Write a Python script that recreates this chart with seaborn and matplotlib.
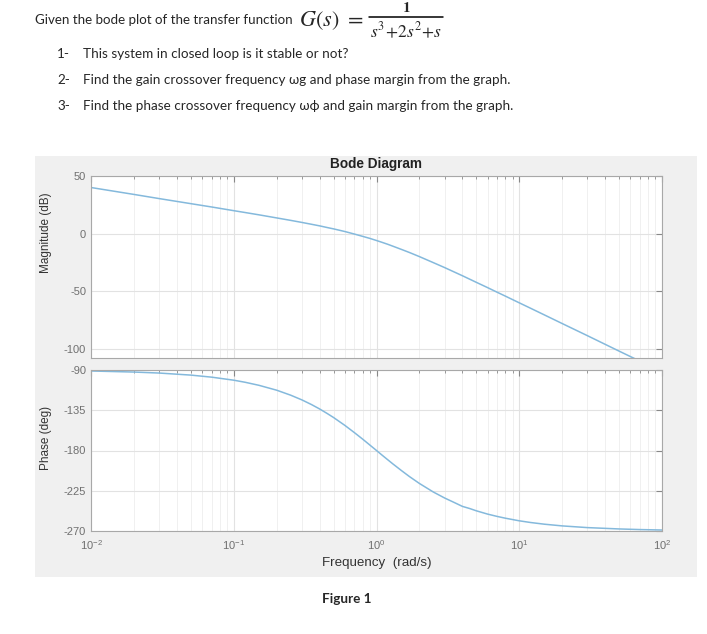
import matplotlib
matplotlib.use("Agg")
import matplotlib.pyplot as plt
from matplotlib.patches import Rectangle
from matplotlib.lines import Line2D
from matplotlib.ticker import LogLocator, NullFormatter
import seaborn as sns

# values
freq = [0.01, 0.02, 0.03, 0.05, 0.07, 0.1, 0.12, 0.15, 0.2, 0.25, 0.3, 0.35, 0.4,
        0.45, 0.5, 0.6, 0.7, 0.8, 0.9, 1.0, 1.1, 1.2, 1.3, 1.5, 1.7, 2, 2.5, 3,
        3.5, 4, 4.5, 5, 6, 7, 8, 10, 12, 15, 20, 30, 50, 70, 100]
mag_db = [40.0, 34.0, 30.4, 26.0, 23.1, 19.9, 18.3, 16.3, 13.6, 11.5, 9.7, 8.1,
          6.7, 5.3, 4.1, 1.8, -0.4, -2.4, -4.2, -6.0, -7.7, -9.3, -10.9, -13.8,
          -16.4, -20.0, -25.2, -29.5, -33.3, -36.6, -39.6, -42.3, -46.9, -50.9,
          -54.3, -60.1, -64.8, -70.6, -78.1, -88.6, -102.0, -110.7, -120.0]
phase_deg = [-91.1, -92.3, -93.4, -95.7, -98.0, -101.4, -103.7, -107.1, -112.6,
             -118.1, -123.4, -128.6, -133.6, -138.5, -143.1, -151.9, -160.0,
             -167.3, -174.0, -180.0, -185.5, -190.4, -194.9, -202.6, -209.1,
             -216.9, -226.4, -233.1, -238.1, -242.5, -244.9, -247.4, -251.1,
             -253.7, -255.7, -258.6, -260.5, -262.4, -264.3, -266.2, -267.7,
             -268.4, -268.9]
mag_ticks = [50, 0, -50, -100]
phase_ticks = [-90, -135, -180, -225, -270]

questions = [
    ("1-", "This system in closed loop is it stable or not?"),
    ("2-", "Find the gain crossover frequency ωg and phase margin from the graph."),
    ("3-", "Find the phase crossover frequency ωϕ and gain margin from the graph."),
]

sns.set_style("white")
plt.rcParams["font.family"] = ["Liberation Sans", "DejaVu Sans"]
plt.rcParams["axes.unicode_minus"] = False
plt.rcParams["mathtext.fontset"] = "custom"
plt.rcParams["mathtext.rm"] = "Liberation Sans"
plt.rcParams["mathtext.it"] = "Liberation Sans:italic"

W, H = 707, 634
fig = plt.figure(figsize=(W / 100, H / 100), dpi=100)
fig.patch.set_facecolor("white")

# grey figure panel behind the plot
fig.patches.append(Rectangle((35 / W, 1 - 577 / H), 662 / W, 421 / H,
                             transform=fig.transFigure, facecolor="#f0f0f0",
                             edgecolor="none", zorder=-1))

doc_font = ["Lato", "DejaVu Sans"]
fig.text(35 / W, 1 - 20 / H, "Given the bode plot of the transfer function",
         family=doc_font, fontsize=9.6, va="center", ha="left")
# transfer function G(s) = 1 / (s^3 + 2s^2 + s)
fig.text(299 / W, 1 - 21 / H, r"$G(s)\ =$", fontsize=16, va="center",
         ha="left", math_fontfamily="stix")
fig.text(406 / W, 1 - 8 / H, r"$\mathbf{1}$", fontsize=11, va="center",
         ha="center", math_fontfamily="stix")
fig.lines.append(Line2D([369 / W, 443 / W], [1 - 17 / H, 1 - 17 / H],
                        transform=fig.transFigure, color="black", linewidth=1.1))
fig.text(406 / W, 1 - 31 / H, r"$s^3\!+\!2s^2\!+\!s$", fontsize=12.5,
         va="center", ha="center", math_fontfamily="stix")
for i, (num, q) in enumerate(questions):
    y = 1 - (54 + i * 26) / H
    fig.text(57 / W, y, num, family=doc_font, fontsize=9.7, va="center")
    fig.text(83 / W, y, q, family=doc_font, fontsize=9.7, va="center")
fig.text(347 / W, 1 - 599 / H, "Figure 1", family=doc_font, fontsize=9.7,
         fontweight="bold", ha="center", va="center")

line_color = "#84b9dc"
tick_color = "#707070"
ax_mag = fig.add_axes([91 / W, 1 - 358 / H, 571 / W, 182 / H])
ax_ph = fig.add_axes([91 / W, 1 - 531 / H, 571 / W, 161 / H])

sns.lineplot(x=freq, y=mag_db, ax=ax_mag, color=line_color, linewidth=1.1)
sns.lineplot(x=freq, y=phase_deg, ax=ax_ph, color=line_color, linewidth=1.1)

for ax in (ax_mag, ax_ph):
    ax.set_facecolor("white")
    ax.set_xscale("log")
    ax.set_xlim(0.01, 100)
    ax.xaxis.set_minor_locator(LogLocator(base=10, subs=range(2, 10)))
    ax.xaxis.set_minor_formatter(NullFormatter())
    ax.grid(True, which="major", color="#e2e2e2", linewidth=0.8)
    ax.grid(True, which="minor", axis="x", color="#eeeeee", linewidth=0.6)
    ax.tick_params(which="both", direction="in", top=True, right=True,
                   colors="#888888", labelcolor=tick_color, labelsize=8)
    ax.tick_params(which="major", length=4)
    ax.tick_params(which="minor", length=2)
    for s in ax.spines.values():
        s.set_color("#a8a8a8")
        s.set_linewidth(0.8)

ax_mag.set_ylim(-108, 50)
ax_mag.set_yticks(mag_ticks)
ax_mag.set_xticklabels([])
ax_mag.set_ylabel("Magnitude (dB)", fontsize=8.5, color="#333333")
ax_mag.yaxis.set_label_coords(-0.068, 0.69)
ax_mag.set_title("Bode Diagram", fontsize=9.8, fontweight="bold",
                 color="#222222", pad=6)

ax_ph.set_ylim(-270, -90)
ax_ph.set_yticks(phase_ticks)
ax_ph.tick_params(axis="x", pad=5)
ax_ph.set_ylabel("Phase (deg)", fontsize=8.5, color="#333333")
ax_ph.yaxis.set_label_coords(-0.068, 0.58)
ax_ph.set_xlabel("Frequency  (rad/s)", fontsize=9.6, color="#333333", labelpad=4)

fig.savefig("out.png", dpi=100)
